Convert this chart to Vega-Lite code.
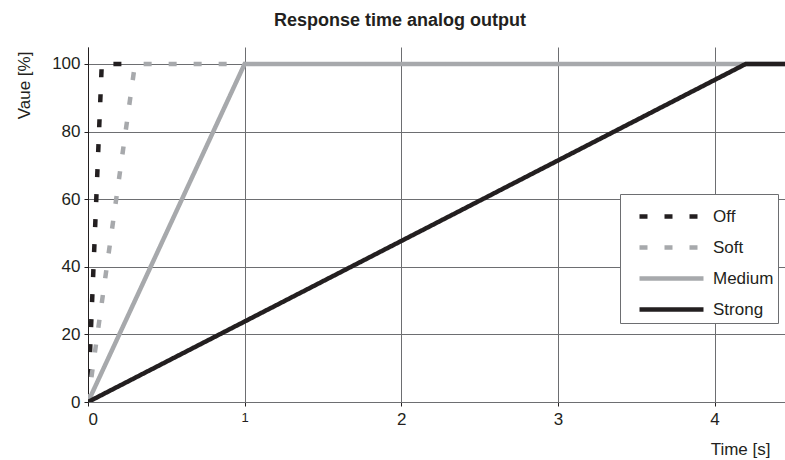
{
  "$schema": "https://vega.github.io/schema/vega-lite/v6.json",
  "width": 697,
  "height": 355,
  "autosize": {"type": "none"},
  "padding": {"left": 88, "top": 47, "right": 0, "bottom": 58},
  "background": "white",
  "config": {"font": "Liberation Sans", "view": {"stroke": null}},
  "title": {"text": "Response time analog output", "font": "Liberation Sans", "fontSize": 18, "fontWeight": "bold", "color": "#231f20", "anchor": "middle", "frame": "bounds", "baseline": "alphabetic", "offset": 3},
  "data": {"values": [
    {"series": "Off", "t": 0, "v": 0},
    {"series": "Off", "t": 0.088, "v": 100},
    {"series": "Off", "t": 0.28, "v": 100},
    {"series": "Soft", "t": 0, "v": 0},
    {"series": "Soft", "t": 0.3, "v": 100},
    {"series": "Soft", "t": 1, "v": 100},
    {"series": "Medium", "t": 0, "v": 0},
    {"series": "Medium", "t": 1, "v": 100},
    {"series": "Medium", "t": 4.45, "v": 100},
    {"series": "Strong", "t": 0, "v": 0},
    {"series": "Strong", "t": 4.2, "v": 100},
    {"series": "Strong", "t": 4.45, "v": 100}
  ]},
  "mark": {"type": "line", "strokeWidth": 4.5, "clip": true},
  "encoding": {
    "x": {
      "field": "t", "type": "quantitative",
      "scale": {"domain": [0, 4.45], "nice": false, "zero": false},
      "axis": {
        "values": [0, 1, 2, 3, 4], "grid": true, "gridColor": "#6d6e71", "gridWidth": 1,
        "domainColor": "#6d6e71", "tickColor": "#231f20", "tickSize": 4,
        "labelFontSize": {"condition": {"test": "datum.value == 1", "value": 13}, "value": 17},
        "labelColor": "#231f20", "labelPadding": 5, "labelFont": "Liberation Sans",
        "title": "Time [s]", "titleFont": "Liberation Sans", "titleFontSize": 17, "titleFontWeight": "normal", "titleColor": "#231f20",
        "titleX": 682, "titleY": 52, "titleAlign": "right", "titleBaseline": "alphabetic", "titleAnchor": null
      }
    },
    "y": {
      "field": "v", "type": "quantitative",
      "scale": {"domain": [0, 105], "nice": false, "zero": false},
      "axis": {
        "values": [0, 20, 40, 60, 80, 100], "grid": true, "gridColor": "#6d6e71", "gridWidth": 1,
        "domainColor": "#231f20", "tickColor": "#231f20", "tickSize": 4,
        "labelFontSize": 17, "labelColor": "#231f20", "labelPadding": 4, "labelFont": "Liberation Sans",
        "title": "Vaue [%]", "titleFont": "Liberation Sans", "titleFontSize": 17, "titleFontWeight": "normal", "titleColor": "#231f20",
        "titleAngle": -90, "titleX": -64, "titleY": 38, "titleAlign": "center", "titleBaseline": "middle", "titleAnchor": null
      }
    },
    "color": {
      "field": "series", "type": "nominal",
      "scale": {"domain": ["Off", "Soft", "Medium", "Strong"], "range": ["#231f20", "#a7a9ac", "#a7a9ac", "#231f20"]},
      "legend": {
        "title": null, "orient": "none", "legendX": 532, "legendY": 147,
        "fillColor": "white", "strokeColor": "#6d6e71", "padding": 4,
        "labelFontSize": 17, "labelFont": "Liberation Sans", "labelColor": "#231f20",
        "symbolType": "M-2,0H2", "symbolSize": 1024, "symbolStrokeWidth": 4.5,
        "rowPadding": 3, "symbolOffset": 29, "labelOffset": 23
      }
    },
    "strokeDash": {
      "field": "series", "type": "nominal",
      "scale": {"domain": ["Off", "Soft", "Medium", "Strong"], "range": [[8, 17], [8, 17], [1, 0], [1, 0]]}
    }
  }
}
